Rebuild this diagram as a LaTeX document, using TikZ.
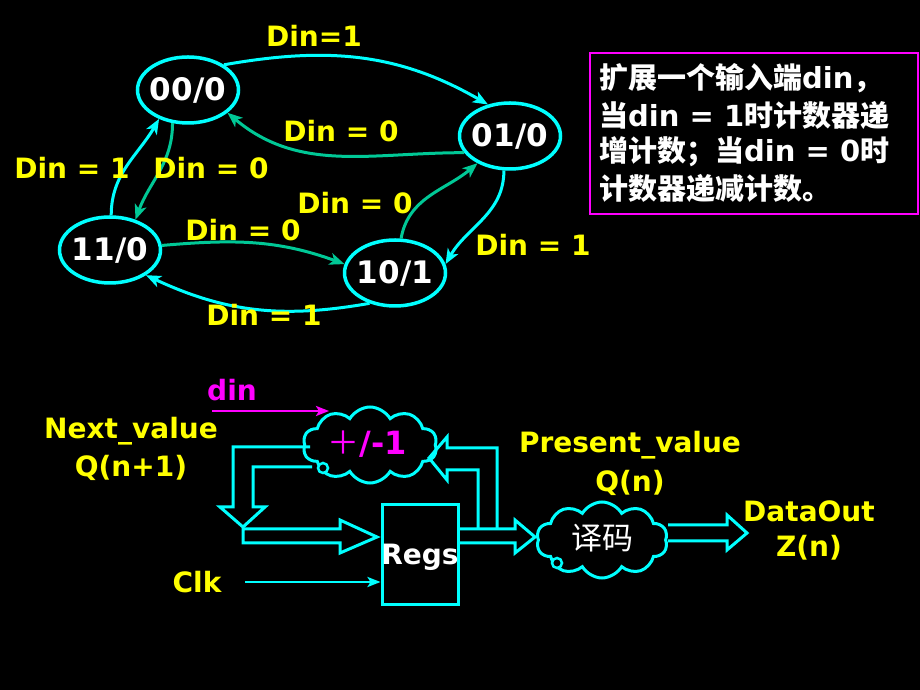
\documentclass[tikz,border=0pt]{standalone}
\usepackage{fontspec}
\setmainfont{DejaVu Sans}
\newfontfamily\cjk{Noto Sans CJK SC}
\usetikzlibrary{shapes.geometric,shapes.symbols,arrows.meta}
\definecolor{cy}{RGB}{0,255,255}
\definecolor{gr}{RGB}{0,200,150}
\definecolor{ye}{RGB}{255,255,0}
\definecolor{mg}{RGB}{255,0,255}
\begin{document}
\begin{tikzpicture}[x=1pt,y=1pt,
  st/.style={ellipse,draw=cy,line width=3.5pt,minimum width=101pt,minimum height=66pt,inner sep=-9pt,text=white,font=\fontsize{31}{31}\selectfont\bfseries},
  tipA/.style={-{Stealth[length=15pt,width=12pt,inset=4pt]}},
  ce/.style={draw=cy,line width=3pt,tipA},
  ge/.style={draw=gr,line width=3pt,tipA},
  lb/.style={text=ye,font=\fontsize{28}{28}\selectfont\bfseries,inner sep=0pt},
  wt/.style={text=white,font=\fontsize{29}{29}\selectfont\bfseries,inner sep=0pt},
  blk/.style={draw=cy,line width=3pt,line join=miter},
  cl/.style={cloud,cloud puffs=10,cloud puff arc=120,aspect=1.8,draw=cy,fill=black,line width=3pt,inner sep=0pt},
  ring/.style={circle,draw=cy,fill=black,line width=2.5pt,minimum size=10pt,inner sep=0pt},
  thin/.style={line width=2.5pt,-{Stealth[length=13pt,width=10pt,inset=3pt]}}
]
\useasboundingbox (0,0) rectangle (920,690);
\fill[black] (0,0) rectangle (920,690);

% ---- state diagram ----
\node[st] (s00) at (188,600) {00/0};
\node[st] (s01) at (510,554) {01/0};
\node[st] (s11) at (110,440) {11/0};
\node[st] (s10) at (395,417) {10/1};

\draw[ce] (s00.35) to[out=10,in=150] (s01.125);
\draw[ge] (s01.200) to[out=180,in=-40] (s00.-30);
\draw[ce] (s01.-100) to[out=-90,in=60] (s10.10);
\draw[ge] (s10.80) to[out=80,in=-140] (s01.-140);
\draw[ce] (s10.-130) to[out=190,in=-25] (s11.-35);
\draw[ge] (s11.5) to[out=5,in=160] (s10.170);
\draw[ce] (s11.88) to[out=90,in=-120] (s00.-135);
\draw[ge] (s00.-115) to[out=-90,in=70] (s11.50);

\node[lb] (l1) at (314,654) {Din=1};
\node[lb] (l2) at (341,559) {Din = 0};
\node[lb] (l3) at (533,445) {Din = 1};
\node[lb] (l4) at (355,487) {Din = 0};
\node[lb] (l5) at (264,375) {Din = 1};
\node[lb] (l6) at (243,460) {Din = 0};
\node[lb] (l7) at (72,522) {Din = 1};
\node[lb] (l8) at (211,522) {Din = 0};

% ---- text box ----
\draw[draw=mg,line width=2.5pt] (590,637) rectangle (918,476);
\node[wt,anchor=west] (t1) at (599,612) {{\cjk 扩展一个输入端}din{\cjk ，}};
\node[wt,anchor=west] (t2) at (599,575) {{\cjk 当}din = 1{\cjk 时计数器递}};
\node[wt,anchor=west] (t3) at (599,538) {{\cjk 增计数；当}din = 0{\cjk 时}};
\node[wt,anchor=west] (t4) at (599,502) {{\cjk 计数器递减计数。}};

% ---- block diagram ----
\node[cl,minimum width=134pt,minimum height=76pt] (add) at (370,245) {};
\node[text=mg,font=\fontsize{32}{32}\selectfont\bfseries,inner sep=0pt] (addt) at (367,246) {{\cjk\mdseries ＋}/-1};
\node[ring] (r1) at (323,222) {};

\node[cl,minimum width=131pt,minimum height=76pt] (dec) at (602,150) {};
\node[text=white,font=\fontsize{31}{31}\selectfont,inner sep=0pt] (dect) at (602,152) {\cjk 译码};
\node[ring] (r2) at (557,127) {};

\node[draw=cy,line width=3pt,minimum width=76pt,minimum height=100pt,inner sep=0pt] (regs) at (420,135) {};
\node[wt,font=\fontsize{28}{28}\selectfont\bfseries] (regst) at (420,133) {Regs};

% feedback from cloud, down-arrow
\draw[blk] (310,243) -- (233,243) -- (233,183) -- (220,183) -- (243,163) -- (265,183) -- (253,183) -- (253,223) -- (312,223);
% band into Regs
\draw[blk] (243,161) -- (340,161) -- (340,170) -- (377,153) -- (340,137) -- (340,147) -- (243,147) -- cycle;
% band out of Regs
\draw[blk] (458,161) -- (515,161) -- (515,170) -- (535,153) -- (515,137) -- (515,147) -- (458,147);
% feedback to cloud
\draw[blk] (478,161) -- (478,220) -- (447,220) -- (447,210) -- (429,232) -- (447,253) -- (447,242) -- (497,242) -- (497,161);
% output band
\draw[blk] (668,165) -- (727,165) -- (727,175) -- (747,157) -- (727,140) -- (727,149) -- (668,149);

% din and clk
\coordinate (dinS) at (212,279);
\coordinate (dinE) at (329,279);
\coordinate (clkS) at (245,108);
\draw[thin,draw=mg] (dinS) -- (dinE);
\draw[thin,draw=cy] (clkS) -- (regs.west |- clkS);

\node[text=mg,font=\fontsize{28}{28}\selectfont\bfseries,inner sep=0pt] (dint) at (232,300) {din};
\node[lb] (nv1) at (131,259) {Next\_value};
\node[lb] (nv2) at (131,222) {Q(n+1)};
\node[lb] (pv1) at (630,245) {Present\_value};
\node[lb] (pv2) at (630,207) {Q(n)};
\node[lb] (do1) at (809,179) {DataOut};
\node[lb] (do2) at (809,142) {Z(n)};
\node[lb] (clk) at (197,108) {Clk};
\end{tikzpicture}
\end{document}
